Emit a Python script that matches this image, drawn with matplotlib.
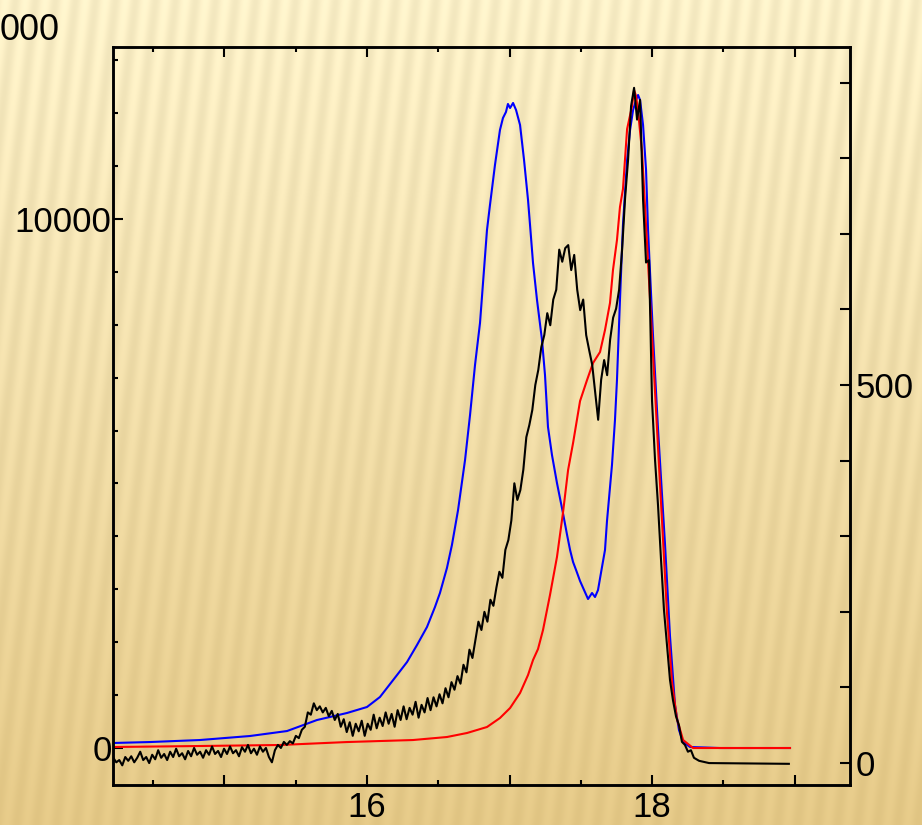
import numpy as np
import matplotlib
matplotlib.use('Agg')
import matplotlib.pyplot as plt
from matplotlib.ticker import MultipleLocator, FixedLocator, FuncFormatter

plt.rcParams['font.family'] = ['Liberation Sans', 'DejaVu Sans']

# blue trace (left axis)
blue_x = [14.218, 14.477, 14.828, 15.179, 15.439, 15.649, 15.860, 16.000, 16.091, 16.211,
          16.281, 16.351, 16.421, 16.477, 16.512, 16.561, 16.596, 16.639, 16.688, 16.723,
          16.758, 16.793, 16.842, 16.863, 16.898, 16.933, 16.954, 16.975, 16.989, 17.004,
          17.025, 17.046, 17.074, 17.102, 17.130, 17.144, 17.165, 17.193, 17.228, 17.249,
          17.270, 17.298, 17.333, 17.375, 17.404, 17.425, 17.446, 17.467, 17.495, 17.523,
          17.551, 17.579, 17.600, 17.621, 17.649, 17.670, 17.684, 17.719, 17.740, 17.754,
          17.775, 17.796, 17.825, 17.846, 17.867, 17.888, 17.902, 17.916, 17.937, 17.958,
          17.972, 18.007, 18.042, 18.091, 18.126, 18.161, 18.189, 18.218, 18.267, 18.477,
          18.968]
blue_y = [95, 113, 151, 227, 321, 529, 662, 775, 964, 1380,
          1625, 1947, 2287, 2665, 2930, 3402, 3837, 4498, 5443, 6294,
          7239, 8033, 9790, 10263, 11019, 11680, 11907, 12020, 12172, 12096,
          12191, 12058, 11775, 11113, 10357, 9885, 9167, 8467, 7711, 7050,
          6067, 5538, 5009, 4442, 4026, 3742, 3515, 3364, 3156, 2986,
          2816, 2930, 2854, 2986, 3421, 3742, 4290, 5349, 6199, 6955,
          8467, 9885, 11113, 11680, 12058, 12247, 12342, 12247, 11775, 10924,
          9790, 7787, 6029, 3856, 2117, 813, 340, 113, 19, 0,
          0]

# red trace (left axis)
red_x = [14.218, 14.828, 15.389, 15.860, 16.323, 16.561, 16.702, 16.842, 16.933, 17.004,
         17.074, 17.130, 17.165, 17.200, 17.235, 17.284, 17.333, 17.375, 17.411, 17.446,
         17.495, 17.544, 17.586, 17.635, 17.670, 17.705, 17.726, 17.754, 17.775, 17.796,
         17.825, 17.860, 17.874, 17.888, 17.902, 17.930, 17.965, 18.000, 18.035, 18.070,
         18.105, 18.140, 18.175, 18.218, 18.288, 18.477, 18.968]
red_y = [19, 38, 57, 113, 151, 208, 284, 397, 567, 756,
         1040, 1380, 1663, 1871, 2230, 2892, 3610, 4442, 5254, 5765,
         6558, 6955, 7277, 7484, 7900, 8411, 9034, 9601, 10225, 10565,
         11699, 12134, 12436, 12323, 12039, 11264, 9526, 7787, 6029, 4290,
         2552, 1247, 548, 151, 0, 0, 0]

# black trace (right axis)
black_x = [14.220, 14.241, 14.262, 14.283, 14.304, 14.325, 14.346, 14.367, 14.388, 14.409,
           14.430, 14.451, 14.472, 14.493, 14.514, 14.535, 14.556, 14.577, 14.598, 14.619,
           14.640, 14.661, 14.682, 14.703, 14.724, 14.745, 14.766, 14.787, 14.808, 14.829,
           14.850, 14.871, 14.892, 14.913, 14.934, 14.955, 14.976, 14.997, 15.018, 15.039,
           15.060, 15.081, 15.102, 15.123, 15.144, 15.165, 15.186, 15.207, 15.228, 15.249,
           15.270, 15.291, 15.312, 15.333, 15.354, 15.375, 15.396, 15.417, 15.438, 15.459,
           15.480, 15.501, 15.522, 15.543, 15.564, 15.585, 15.606, 15.627, 15.648, 15.669,
           15.690, 15.711, 15.732, 15.753, 15.774, 15.795, 15.816, 15.837, 15.858, 15.879,
           15.900, 15.921, 15.942, 15.963, 15.984, 16.005, 16.026, 16.047, 16.068, 16.089,
           16.110, 16.131, 16.152, 16.173, 16.194, 16.215, 16.236, 16.257, 16.278, 16.299,
           16.320, 16.341, 16.362, 16.383, 16.404, 16.425, 16.446, 16.467, 16.488, 16.509,
           16.530, 16.551, 16.572, 16.593, 16.614, 16.635, 16.656, 16.677, 16.698, 16.719,
           16.740, 16.761, 16.782, 16.803, 16.824, 16.845, 16.866, 16.887, 16.908, 16.929,
           16.950, 16.971, 16.992, 17.013, 17.034, 17.055, 17.076, 17.097, 17.118, 17.139,
           17.160, 17.181, 17.202, 17.223, 17.244, 17.265, 17.286, 17.307, 17.328, 17.349,
           17.370, 17.391, 17.412, 17.433, 17.454, 17.475, 17.496, 17.517, 17.538, 17.559,
           17.580, 17.601, 17.622, 17.643, 17.664, 17.685, 17.706, 17.727, 17.748, 17.769,
           17.790, 17.811, 17.832, 17.853, 17.874, 17.895, 17.916, 17.937, 17.958, 17.979,
           18.000, 18.021, 18.042, 18.063, 18.084, 18.105, 18.126, 18.147, 18.168, 18.189,
           18.210, 18.231, 18.252, 18.273, 18.294, 18.330, 18.400, 18.960]
black_y = [7, 1, 4, -3, 8, 3, 9, 1, 7, 15,
           4, 8, 0, 11, 5, 17, 7, 12, 4, 15,
           8, 19, 9, 13, 5, 16, 9, 20, 11, 15,
           7, 17, 11, 22, 12, 16, 8, 19, 12, 22,
           13, 17, 9, 21, 15, 24, 13, 19, 11, 22,
           15, 20, 8, 1, 17, 24, 20, 28, 24, 29,
           26, 36, 33, 44, 48, 67, 64, 79, 70, 75,
           67, 73, 62, 69, 57, 65, 48, 58, 41, 54,
           36, 52, 42, 56, 36, 52, 44, 64, 46, 60,
           49, 67, 52, 65, 48, 70, 57, 75, 58, 73,
           64, 81, 60, 77, 67, 86, 70, 87, 75, 91,
           79, 99, 87, 107, 97, 115, 105, 130, 120, 150,
           139, 163, 187, 176, 200, 187, 216, 208, 232, 253,
           245, 282, 295, 321, 370, 348, 361, 388, 431, 447,
           467, 500, 520, 550, 566, 595, 579, 613, 626, 679,
           663, 681, 685, 652, 672, 626, 599, 613, 566, 546,
           527, 491, 454, 507, 533, 513, 560, 589, 601, 626,
           679, 747, 798, 869, 893, 851, 877, 745, 662, 665,
           479, 401, 341, 269, 202, 156, 110, 83, 62, 50,
           28, 24, 15, 17, 7, 3, 0, -1]

x_ticks = [15, 16, 17, 18, 19]
left_ticks = [0, 10000]
right_ticks = [0, 500]

fig = plt.figure(figsize=(9.22, 8.25), dpi=100)

# golden striped backdrop
bg = fig.add_axes([0, 0, 1, 1], zorder=-10)
H, W = 825, 922
yy, xx = np.mgrid[0:H, 0:W]
t = yy / H
top = np.array([251, 240, 200]) / 255
bot = np.array([228, 200, 134]) / 255
base = top[None, None, :] * (1 - t[..., None]) + bot[None, None, :] * t[..., None]
stripe = np.sin(2 * np.pi * (xx + 0.12 * yy) / 20.0)
amp = 0.03 * (1 - 0.5 * t)
img = np.clip(base + (stripe * amp)[..., None], 0, 1)
bg.imshow(img, aspect='auto', extent=[0, 1, 0, 1], origin='upper')
bg.axis('off')

ax = fig.add_axes([113 / 922, 40 / 825, 737 / 922, 738 / 825])
ax.patch.set_alpha(0)
ax2 = ax.twinx()

ax.plot(blue_x, blue_y, color='#0000ff', lw=1.5)
ax.plot(red_x, red_y, color='#ff0000', lw=1.5)
ax2.plot(black_x, black_y, color='black', lw=1.5)

ax.set_xlim(14.218, 19.389)
ax.set_ylim(-699, 13249)
ax2.set_ylim(-29, 947)

ax.xaxis.set_major_locator(FixedLocator(x_ticks))
ax.xaxis.set_major_formatter(FuncFormatter(lambda v, p: '%d' % v if int(round(v)) % 2 == 0 else ''))
ax.xaxis.set_minor_locator(MultipleLocator(0.5))
ax.yaxis.set_major_locator(FixedLocator(left_ticks))
ax.yaxis.set_major_formatter(FuncFormatter(lambda v, p: '%d' % v))
ax.yaxis.set_minor_locator(MultipleLocator(1000))
ax.tick_params(which='both', direction='in', top=True, right=False, width=1.5,
               labelsize=25, colors='black')
ax.tick_params(which='major', length=7)
ax.tick_params(which='minor', length=3.5)
ax.tick_params(axis='y', pad=1)
ax.tick_params(axis='x', pad=4)

ax2.yaxis.set_major_locator(FixedLocator(right_ticks))
ax2.yaxis.set_minor_locator(MultipleLocator(100))
ax2.tick_params(which='both', direction='in', length=7, width=1.5, labelsize=25, pad=4)

for a in (ax, ax2):
    for s in a.spines.values():
        s.set_linewidth(1.8)

fig.text(0.0, 1 - 30 / 825, '000', fontsize=26, ha='left', va='center')

fig.savefig('out.png', dpi=100)
